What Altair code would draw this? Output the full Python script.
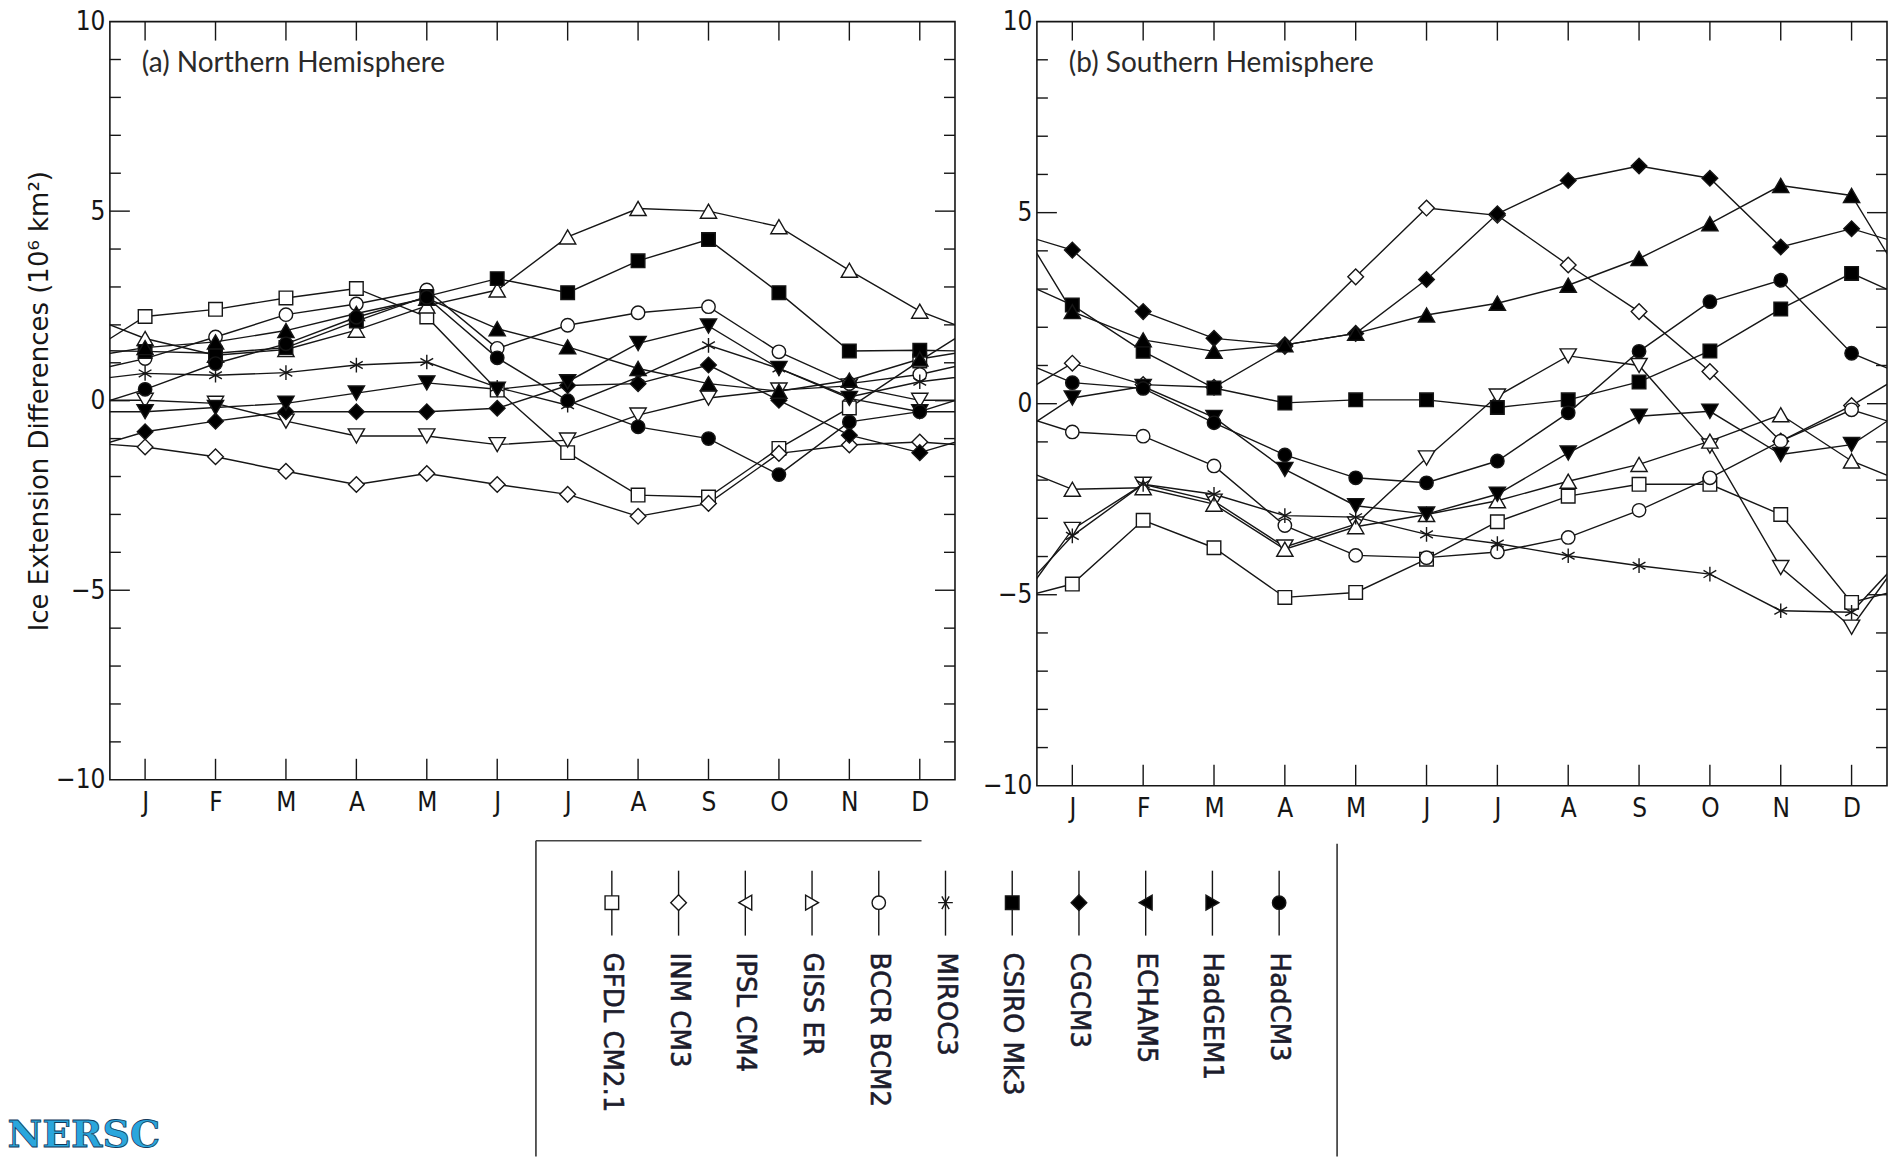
import json
import altair as alt
import pandas as pd

# ---------------- data ----------------
months = ["J", "F", "M", "A", "M", "J", "J", "A", "S", "O", "N", "D"]
month_nums = list(range(1, 13))
models = ["GFDL CM2.1", "INM CM3", "IPSL CM4", "GISS ER", "BCCR BCM2", "MIROC3",
          "CSIRO Mk3", "CGCM3", "ECHAM5", "HadGEM1", "HadCM3"]
panel_titles = ["(a) Northern Hemisphere", "(b) Southern Hemisphere"]
y_title = "Ice Extension Differences (10\u2076 km\u00b2)"
logo_text = "NERSC"

# Northern Hemisphere (10^6 km^2), Jan..Dec
nh_gfdl = [2.22, 2.41, 2.71, 2.96, 2.21, 0.28, -1.37, -2.49, -2.54, -1.26, -0.19, 1.05]
nh_inm = [-1.22, -1.48, -1.86, -2.21, -1.92, -2.21, -2.47, -3.05, -2.71, -1.39, -1.17, -1.09]
nh_ipsl = [0.01, -0.07, -0.54, -0.93, -0.93, -1.16, -1.04, -0.38, 0.07, 0.28, 0.39, 0.01]
nh_giss = [1.64, 1.20, 1.35, 1.86, 2.50, 2.92, 4.32, 5.07, 5.00, 4.59, 3.44, 2.36]
nh_bccr = [1.11, 1.68, 2.27, 2.55, 2.92, 1.38, 1.99, 2.32, 2.48, 1.29, 0.45, 0.69]
nh_miroc = [0.72, 0.67, 0.74, 0.94, 1.02, 0.35, -0.12, 0.62, 1.46, 0.85, 0.10, 0.50]
nh_csiro = [1.30, 1.25, 1.40, 2.10, 2.75, 3.22, 2.85, 3.69, 4.25, 2.85, 1.31, 1.33]
nh_cgcm = [-0.82, -0.54, -0.29, -0.29, -0.29, -0.20, 0.40, 0.45, 0.94, 0.01, -0.91, -1.37]
nh_echam = [-0.29, -0.18, -0.07, 0.20, 0.47, 0.30, 0.50, 1.51, 1.97, 0.85, 0.06, -0.29]
nh_hadgem = [1.40, 1.55, 1.85, 2.30, 2.70, 1.90, 1.42, 0.85, 0.45, 0.25, 0.54, 1.10]
nh_hadcm = [0.30, 0.98, 1.50, 2.20, 2.73, 1.13, 0.00, -0.69, -1.00, -1.95, -0.56, -0.29]

# Southern Hemisphere (10^6 km^2), Jan..Dec
sh_gfdl = [-4.72, -3.05, -3.77, -5.07, -4.94, -4.07, -3.09, -2.42, -2.11, -2.11, -2.90, -5.20]
sh_inm = [1.06, 0.50, 0.43, 1.50, 3.32, 5.12, 4.93, 3.63, 2.41, 0.84, -0.98, -0.05]
sh_ipsl = [-3.29, -2.11, -2.55, -3.75, -3.15, -1.42, 0.20, 1.25, 1.00, -1.11, -4.29, -5.85]
sh_giss = [-2.24, -2.20, -2.63, -3.81, -3.22, -2.90, -2.54, -2.03, -1.59, -0.98, -0.29, -1.50]
sh_bccr = [-0.74, -0.85, -1.63, -3.19, -3.97, -4.03, -3.88, -3.50, -2.79, -1.94, -0.98, -0.16]
sh_miroc = [-3.46, -2.11, -2.37, -2.93, -2.97, -3.42, -3.66, -3.98, -4.24, -4.46, -5.42, -5.46]
sh_csiro = [2.58, 1.37, 0.41, 0.02, 0.10, 0.10, -0.10, 0.10, 0.57, 1.38, 2.48, 3.41]
sh_cgcm = [4.02, 2.41, 1.71, 1.54, 1.84, 3.25, 4.97, 5.84, 6.22, 5.90, 4.10, 4.58]
sh_echam = [0.15, 0.45, -0.36, -1.72, -2.67, -2.89, -2.37, -1.29, -0.33, -0.20, -1.33, -1.07]
sh_hadgem = [2.41, 1.67, 1.37, 1.54, 1.84, 2.32, 2.63, 3.10, 3.80, 4.71, 5.71, 5.45]
sh_hadcm = [0.55, 0.40, -0.50, -1.34, -1.94, -2.07, -1.50, -0.24, 1.37, 2.67, 3.23, 1.32]

nh_series = [nh_gfdl, nh_inm, nh_ipsl, nh_giss, nh_bccr, nh_miroc,
             nh_csiro, nh_cgcm, nh_echam, nh_hadgem, nh_hadcm]
sh_series = [sh_gfdl, sh_inm, sh_ipsl, sh_giss, sh_bccr, sh_miroc,
             sh_csiro, sh_cgcm, sh_echam, sh_hadgem, sh_hadcm]

# ---------------- styles ----------------
ASTER = "M0,-1L0,1M-0.87,-0.5L0.87,0.5M-0.87,0.5L0.87,-0.5"
ASTER_R = "M-1,0L1,0M-0.5,-0.87L0.5,0.87M-0.5,0.87L0.5,-0.87"
plot_shapes = ["square", "diamond", "triangle-down", "triangle-up", "circle", ASTER,
               "square", "diamond", "triangle-down", "triangle-up", "circle"]
legend_shapes = ["square", "diamond", "triangle-left", "triangle-right", "circle", ASTER_R,
                 "square", "diamond", "triangle-left", "triangle-right", "circle"]
fills = ["white"] * 6 + ["black"] * 5
size_of = {"square": 185, "circle": 180, "diamond": 245,
           "triangle-up": 265, "triangle-down": 265,
           "triangle-left": 220, "triangle-right": 220}
INK = "#161616"
TICK_FONT = "'Liberation Sans Narrow', 'DejaVu Sans Condensed', 'Liberation Sans', sans-serif"
TITLE_FONT = "'DejaVu Sans', Verdana, sans-serif"
LABEL_FONT = "Lato, 'Open Sans', sans-serif"

# layout (pixels)
LEFT_W, LEFT_H = 846, 759
RIGHT_W, RIGHT_H = 851, 765
GAP = 82
LEG_X0, LEG_X1 = 426.5, 1228.5      # legend box, relative to left plot origin
LEG_Y0, LEG_Y1 = 820, 1136


def sz(s):
    return size_of.get(s, 215)


def line_frame(series):
    rows = []
    for m, vals in zip(models, series):
        ext = [vals[-1]] + list(vals) + [vals[0]]  # wrap: Dec before Jan, Jan after Dec
        for k, v in enumerate(ext):
            rows.append({"model": m, "month": k, "value": v})
    return pd.DataFrame(rows)


def point_frame(series):
    rows = []
    for m, shp, f, vals in zip(models, plot_shapes, fills, series):
        for k, v in zip(month_nums, vals):
            rows.append({"model": m, "month": k, "value": v, "shape": shp,
                         "fill": f, "size": sz(shp)})
    return pd.DataFrame(rows)


month_expr = json.dumps(months) + "[datum.value - 1]"


def panel_layers(series, title, width, height, ytitle):
    xs = alt.Scale(domain=[0.5, 12.5], nice=False, zero=False)
    ys = alt.Scale(domain=[-10, 10], nice=False, zero=False)
    xaxis = alt.Axis(values=month_nums, labelExpr=month_expr, ticks=False, domain=False,
                     grid=False, labelFont=TICK_FONT, labelFontSize=26, labelColor=INK,
                     labelPadding=10, labelOverlap=False, title=None)
    yargs = dict(values=[-10, -5, 0, 5, 10], ticks=False, domain=False, grid=False,
                 labelFont=TICK_FONT, labelFontSize=26, labelColor=INK, labelPadding=5,
                 labelOverlap=False)
    if ytitle:
        yaxis = alt.Axis(title=ytitle, titleFont=TITLE_FONT, titleFontSize=26,
                         titleFontWeight="normal", titleColor=INK, titlePadding=3, **yargs)
    else:
        yaxis = alt.Axis(title=None, **yargs)

    minor = [v for v in range(-9, 10) if v % 5 != 0]
    major = [-5, 0, 5]
    tick_style = dict(color=INK, strokeWidth=1.4)
    X = lambda f: alt.X(f, scale=xs, axis=xaxis)
    Y = lambda f: alt.Y(f, scale=ys, axis=yaxis)

    def yticks(vals, length):
        d = pd.DataFrame({"v": vals})
        left = alt.Chart(d).mark_rule(**tick_style).encode(
            y=Y("v:Q"), x=alt.value(0), x2=alt.value(length))
        right = alt.Chart(d).mark_rule(**tick_style).encode(
            y=Y("v:Q"), x=alt.value(width - length), x2=alt.value(width))
        return [left, right]

    md = pd.DataFrame({"m": month_nums})
    top_ticks = alt.Chart(md).mark_rule(**tick_style).encode(
        x=X("m:Q"), y=alt.value(0), y2=alt.value(19))
    bot_ticks = alt.Chart(md).mark_rule(**tick_style).encode(
        x=X("m:Q"), y=alt.value(height - 21), y2=alt.value(height))

    lines = alt.Chart(line_frame(series)).mark_line(
        color=INK, strokeWidth=1.4, clip=True).encode(
        x=X("month:Q"), y=Y("value:Q"), detail="model:N", order="month:Q")

    points = alt.Chart(point_frame(series)).mark_point(
        filled=True, stroke=INK, strokeWidth=1.4, opacity=1).encode(
        x=X("month:Q"), y=Y("value:Q"),
        shape=alt.Shape("shape:N", scale=None),
        fill=alt.Fill("fill:N", scale=None),
        size=alt.Size("size:Q", scale=None))

    label = alt.Chart(pd.DataFrame({"t": [title]})).mark_text(
        align="left", baseline="alphabetic", font=LABEL_FONT, fontSize=28,
        color="#2a2a2a").encode(x=alt.value(32), y=alt.value(50), text="t:N")

    return [lines] + yticks(minor, 11) + yticks(major, 20) + [top_ticks, bot_ticks, points, label]


# ---------------- legend (drawn below, overflowing the left panel) ----------------
leg_df = pd.DataFrame({"model": models, "idx": list(range(len(models))),
                       "shape": legend_shapes, "fill": fills,
                       "size": [sz(s) for s in legend_shapes]})
lx = alt.X("idx:Q", scale=alt.Scale(domain=[0, 10], range=[LEG_X0 + 76, LEG_X0 + 744]),
           axis=None)
leg_stems = alt.Chart(leg_df).mark_rule(color=INK, strokeWidth=1.4).encode(
    x=lx, y=alt.value(LEG_Y0 + 30), y2=alt.value(LEG_Y0 + 95))
leg_pts = alt.Chart(leg_df).mark_point(filled=True, stroke=INK, strokeWidth=1.4, opacity=1).encode(
    x=lx, y=alt.value(LEG_Y0 + 62), shape=alt.Shape("shape:N", scale=None),
    fill=alt.Fill("fill:N", scale=None), size=alt.Size("size:Q", scale=None))
leg_txt = alt.Chart(leg_df).mark_text(
    angle=90, align="left", baseline="middle", font=TITLE_FONT, fontSize=26,
    color="#1c1c2c", stroke="#1c1c2c", strokeWidth=0.6).encode(
    x=lx, y=alt.value(LEG_Y0 + 112), text="model:N")
one = pd.DataFrame({"k": [0]})
box_left = alt.Chart(one).mark_rule(color="#333", strokeWidth=1.6).encode(
    x=alt.value(LEG_X0), y=alt.value(LEG_Y0), y2=alt.value(LEG_Y1))
box_right = alt.Chart(one).mark_rule(color="#333", strokeWidth=1.6).encode(
    x=alt.value(LEG_X1), y=alt.value(LEG_Y0 + 3), y2=alt.value(LEG_Y1))
box_top = alt.Chart(one).mark_rule(color="#444", strokeWidth=1.6).encode(
    x=alt.value(LEG_X0), x2=alt.value(LEG_X0 + 386), y=alt.value(LEG_Y0))
logo = alt.Chart(pd.DataFrame({"t": [logo_text]})).mark_text(
    align="left", baseline="alphabetic", font="'DejaVu Serif', serif", fontWeight="bold",
    fontSize=38, color="#2aa6dc", stroke="#123a5c", strokeWidth=0.8).encode(
    x=alt.value(-102.5), y=alt.value(1127), text="t:N")
legend_layer = alt.layer(box_left, box_right, box_top, leg_stems, leg_pts, leg_txt, logo)

left = alt.layer(
    alt.layer(*panel_layers(nh_series, panel_titles[0], LEFT_W, LEFT_H, y_title)),
    legend_layer,
).resolve_scale(x="independent", y="independent").properties(width=LEFT_W, height=LEFT_H)

right = alt.layer(
    *panel_layers(sh_series, panel_titles[1], RIGHT_W, RIGHT_H, None)
).properties(width=RIGHT_W, height=RIGHT_H)

chart = alt.hconcat(left, right, spacing=GAP, bounds="flush").properties(
    padding={"left": 6, "top": 7, "right": 0, "bottom": 0},
    background="white",
).configure_view(stroke=INK, strokeWidth=1.6)

chart.save("out.html", embed_options={"renderer": "svg", "actions": False})
